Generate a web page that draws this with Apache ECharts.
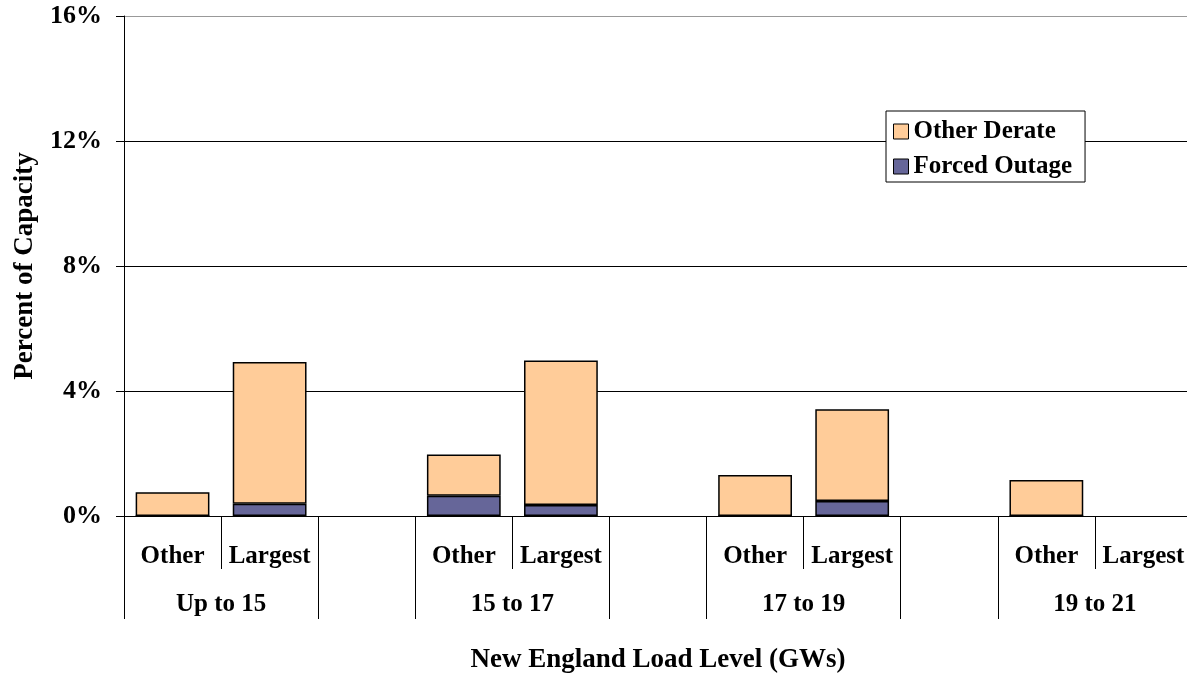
<!DOCTYPE html>
<html>
<head>
<meta charset="utf-8">
<script src="https://cdn.jsdelivr.net/npm/echarts@6/dist/echarts.min.js"></script>
<style>
  html, body { margin: 0; padding: 0; background: #fff; }
  #chart { width: 1187px; height: 673px; }
</style>
</head>
<body>
<div id="chart"></div>
<script>
// Slots along the load axis: Other / Largest per load band, with an empty gap slot between bands
const categories = ['Other', 'Largest', '', 'Other', 'Largest', '', 'Other', 'Largest', '', 'Other', 'Largest'];
const loadBands = ['Up to 15', '15 to 17', '17 to 19', '19 to 21'];
const yTicks = [0, 4, 8, 12, 16];

// Percent of capacity
const forcedOutage = [0, 0.39, null, 0.65, 0.35, null, 0, 0.48, null, 0, null];
const otherDerate  = [0.76, 4.54, null, 1.32, 4.63, null, 1.31, 2.94, null, 1.15, null];

const FONT = "'Liberation Serif', 'Times New Roman', serif";
const chart = echarts.init(document.getElementById('chart'));

chart.setOption({
  animation: false,
  backgroundColor: '#fff',
  grid: { left: 124, right: -5, top: 16, bottom: 157, containLabel: false, outerBoundsMode: 'none' },
  legend: {
    data: ['Other Derate', 'Forced Outage'],
    orient: 'vertical',
    left: 886,
    top: 111,
    padding: [8, 13, 3, 7],
    itemGap: 10,
    itemWidth: 15,
    itemHeight: 15,
    icon: 'rect',
    backgroundColor: '#fff',
    borderColor: '#000',
    borderWidth: 1,
    borderRadius: 0,
    itemStyle: { borderColor: '#000', borderWidth: 1 },
    textStyle: { fontFamily: FONT, fontWeight: 'bold', fontSize: 25, color: '#000' }
  },
  xAxis: [
    {
      // Sub-category row: Other / Largest, short dividers between them
      type: 'category',
      data: categories,
      position: 'bottom',
      axisLine: { show: true, lineStyle: { color: '#000', width: 1 } },
      axisTick: {
        show: true,
        length: 53,
        interval: function (i) { return i % 3 === 1; },
        lineStyle: { color: '#000', width: 1 }
      },
      axisLabel: {
        interval: 0,
        margin: 28,
        fontFamily: FONT, fontWeight: 'bold', fontSize: 25, color: '#000'
      },
      splitLine: { show: false }
    },
    {
      // Long dividers framing each load band
      type: 'category',
      data: categories,
      position: 'bottom',
      axisLine: { show: false },
      axisTick: {
        show: true,
        length: 103,
        interval: function (i) { return i % 3 !== 1; },
        lineStyle: { color: '#000', width: 1 }
      },
      axisLabel: { show: false },
      splitLine: { show: false }
    },
    {
      // Load band labels centred under each Other/Largest pair
      type: 'value',
      min: 0,
      max: categories.length,
      interval: 1,
      position: 'bottom',
      axisLine: { show: false },
      axisTick: { show: false },
      splitLine: { show: false },
      axisLabel: {
        margin: 76,
        fontFamily: FONT, fontWeight: 'bold', fontSize: 25, color: '#000',
        formatter: function (v) { return v % 3 === 1 ? loadBands[(v - 1) / 3] : ''; }
      },
      name: 'New England Load Level (GWs)',
      nameLocation: 'middle',
      nameGap: 131,
      nameTextStyle: { fontFamily: FONT, fontWeight: 'bold', fontSize: 27, color: '#000' }
    }
  ],
  yAxis: {
    type: 'value',
    min: yTicks[0],
    max: yTicks[yTicks.length - 1],
    interval: yTicks[1] - yTicks[0],
    axisLine: { show: true, lineStyle: { color: '#000', width: 1 } },
    axisTick: { show: true, inside: false, length: 8, lineStyle: { color: '#000', width: 1 } },
    axisLabel: {
      margin: 22,
      formatter: '{value}%',
      fontFamily: FONT, fontWeight: 'bold', fontSize: 26, color: '#000'
    },
    splitLine: {
      show: true,
      lineStyle: { color: ['#000', '#000', '#000', '#000', '#999'], width: 1 }
    },
    name: 'Percent of Capacity',
    nameLocation: 'middle',
    nameGap: 85,
    nameRotate: 90,
    nameTextStyle: { fontFamily: FONT, fontWeight: 'bold', fontSize: 27, color: '#000' }
  },
  series: [
    {
      name: 'Forced Outage',
      type: 'bar',
      stack: 'cap',
      xAxisIndex: 0,
      barWidth: '76%',
      data: forcedOutage,
      itemStyle: { color: '#666699', borderColor: '#000', borderWidth: 1.5 }
    },
    {
      name: 'Other Derate',
      type: 'bar',
      stack: 'cap',
      xAxisIndex: 0,
      barWidth: '76%',
      data: otherDerate,
      itemStyle: { color: '#FFCC99', borderColor: '#000', borderWidth: 1.5 }
    }
  ]
});
</script>
</body>
</html>
